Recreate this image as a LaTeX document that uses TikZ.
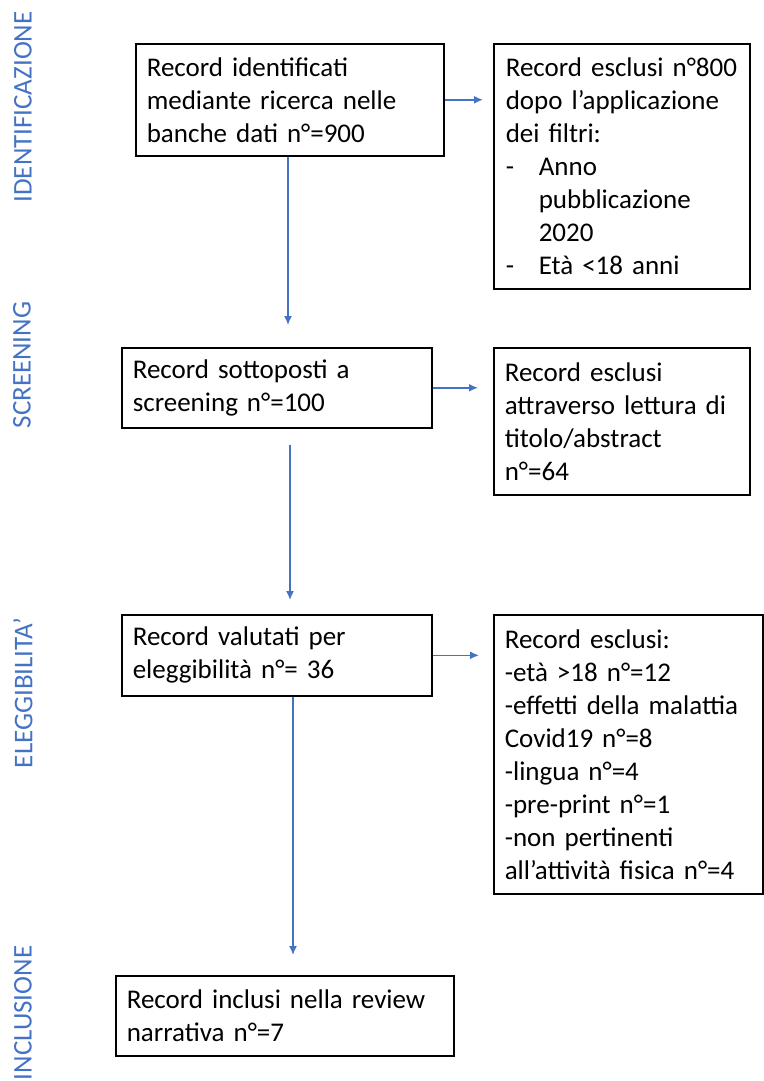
\documentclass[tikz,border=0pt]{standalone}
\usepackage{fontspec}
\setmainfont{Carlito}
\usetikzlibrary{arrows.meta}
\definecolor{wordblue}{HTML}{4472C4}

\begin{document}
\begin{tikzpicture}[x=1pt,y=-1pt,
  box/.style={draw,line width=1.6pt,anchor=north west,align=left,inner xsep=11pt,inner ysep=0pt,font=\fontsize{27}{33}\selectfont},
  phase/.style={rotate=90,text=wordblue,inner sep=0pt,font=\fontsize{27}{33}\selectfont},
  arr/.style={draw=wordblue,line width=1.5pt,-{Latex[length=9pt,width=8pt]}}]
\useasboundingbox (0,0) rectangle (763,1081);
\node[phase] (ph1) at (23,107) {IDENTIFICAZIONE};
\node[phase] (ph2) at (22,365) {SCREENING};
\node[phase] (ph3) at (23,693) {ELEGGIBILITA’};
\node[phase] (ph4) at (23,1013) {INCLUSIONE};
\node[box,text width=286pt,minimum height=112pt] (idn) at (135,43) {Record identificati\\mediante ricerca nelle\\banche dati n°=900};
\node[box,text width=232pt,minimum height=245pt,inner xsep=12pt] (exc1) at (493,43) {Record esclusi n°800\\dopo l’applicazione\\dei filtri:\\\makebox[33pt][l]{-}Anno\\\hspace*{33pt}pubblicazione\\\hspace*{33pt}2020\\\makebox[33pt][l]{-}Età <18 anni};
\node[box,text width=288pt,minimum height=80pt] (scr) at (121,347) {Record sottoposti a\\screening n°=100};
\node[box,text width=234pt,minimum height=147pt] (exc2) at (493,347) {Record esclusi\\attraverso lettura di\\titolo/abstract\\n°=64};
\node[box,text width=288pt,minimum height=81pt] (elg) at (121,614) {Record valutati per\\eleggibilità n°= 36};
\node[box,text width=247pt,minimum height=279pt] (exc3) at (493,614) {Record esclusi:\\-età >18 n°=12\\-effetti della malattia\\Covid19 n°=8\\-lingua n°=4\\-pre-print n°=1\\-non pertinenti\\all’attività fisica n°=4};
\node[box,text width=316pt,minimum height=80pt] (inc) at (115,975) {Record inclusi nella review\\narrativa n°=7};
\coordinate (c1) at (288,0);
\coordinate (c2) at (290,0);
\coordinate (c3) at (293,0);
\draw[arr,shorten >=10pt] (idn) -- (idn -| exc1.west);
\draw[arr,shorten >=15pt] (scr) -- (scr -| exc2.west);
\draw[arr,shorten >=14pt] (elg) -- (elg -| exc3.west);
\draw[arr,shorten >=22pt] (idn.south -| c1) -- (scr.north -| c1);
\draw[arr,shorten <=16pt,shorten >=14pt] (scr.south -| c2) -- (elg.north -| c2);
\draw[arr,shorten >=20pt] (elg.south -| c3) -- (inc.north -| c3);
\end{tikzpicture}
\end{document}
